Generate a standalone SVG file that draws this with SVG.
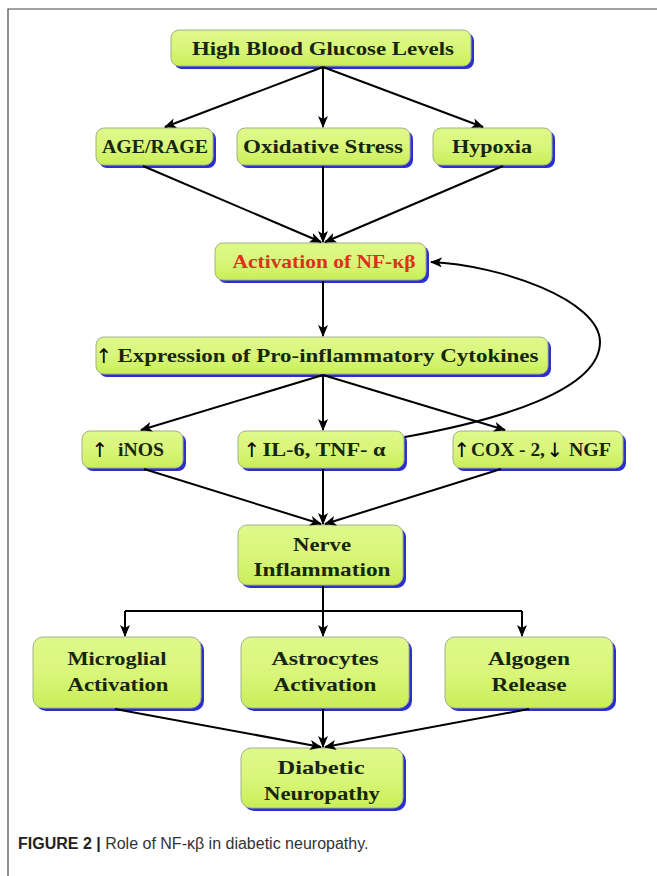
<svg xmlns="http://www.w3.org/2000/svg" width="657" height="876" viewBox="0 0 657 876">
<defs>
<linearGradient id="g" x1="0" y1="0" x2="0" y2="1">
<stop offset="0" stop-color="#def98a"/>
<stop offset="0.5" stop-color="#d9f67a"/>
<stop offset="1" stop-color="#c9ee58"/>
</linearGradient>
<marker id="ah" viewBox="0 0 12 10" refX="11" refY="5" markerWidth="12" markerHeight="10" markerUnits="userSpaceOnUse" orient="auto">
<path d="M0,0 L12,5 L0,10 L3,5 Z" fill="#000"/>
</marker>
</defs>
<style>
.sh{fill:#2b2fd0}
.bx{fill:url(#g);stroke:#a4b08e;stroke-width:1}
.t{font-family:"Liberation Serif","DejaVu Serif",serif;font-weight:bold;font-size:19px;fill:#17260f;text-anchor:middle}
.ar{font-family:"DejaVu Sans",sans-serif;font-size:20px;fill:#000;text-anchor:middle}
.c{fill:none;stroke:#000;stroke-width:2;marker-end:url(#ah)}
.cap{font-family:"Liberation Sans",Arial,sans-serif;font-size:16px;fill:#333}
</style>
<rect width="657" height="876" fill="#fff"/>
<path d="M8,876 V9 H657" fill="none" stroke="#444" stroke-width="1.2"/>

<g id="n1"><rect class="sh" x="174" y="33" width="300" height="36" rx="8"/><rect class="bx" x="171" y="30" width="300" height="36" rx="8"/><text class="t" x="323" y="55" textLength="262" lengthAdjust="spacingAndGlyphs">High Blood Glucose Levels</text></g>

<g id="n2"><rect class="sh" x="99" y="131" width="117" height="37" rx="8"/><rect class="bx" x="96" y="128" width="117" height="37" rx="8"/><text class="t" x="155" y="153" textLength="106" lengthAdjust="spacingAndGlyphs">AGE/RAGE</text></g>

<g id="n3"><rect class="sh" x="240" y="131" width="173" height="37" rx="8"/><rect class="bx" x="237" y="128" width="173" height="37" rx="8"/><text class="t" x="323" y="153" textLength="160" lengthAdjust="spacingAndGlyphs">Oxidative Stress</text></g>

<g id="n4"><rect class="sh" x="436" y="131" width="119" height="37" rx="8"/><rect class="bx" x="433" y="128" width="119" height="37" rx="8"/><text class="t" x="492" y="153" textLength="80" lengthAdjust="spacingAndGlyphs">Hypoxia</text></g>

<g id="n5"><rect class="sh" x="218" y="246" width="211" height="37" rx="8"/><rect class="bx" x="215" y="243" width="211" height="37" rx="8"/><text class="t" x="324" y="268" textLength="183" lengthAdjust="spacingAndGlyphs" style="fill:#e0301c">Activation of NF-κβ</text></g>

<g id="n6"><rect class="sh" x="99" y="340" width="452" height="37" rx="8"/><rect class="bx" x="96" y="337" width="452" height="37" rx="8"/><text class="ar" x="104" y="363">↑</text><text class="t" x="328" y="362" textLength="421" lengthAdjust="spacingAndGlyphs">Expression of Pro-inflammatory Cytokines</text></g>

<g id="n7"><rect class="sh" x="85" y="434" width="101" height="37" rx="8"/><rect class="bx" x="82" y="431" width="101" height="37" rx="8"/><text class="ar" x="100" y="457">↑</text><text class="t" x="141" y="456" textLength="46" lengthAdjust="spacingAndGlyphs">iNOS</text></g>

<g id="n8"><rect class="sh" x="241" y="434" width="166" height="37" rx="8"/><rect class="bx" x="238" y="431" width="166" height="37" rx="8"/><text class="ar" x="252" y="457">↑</text><text class="t" x="324" y="456" textLength="123" lengthAdjust="spacingAndGlyphs">IL-6, TNF- α</text></g>

<g id="n9"><rect class="sh" x="456" y="434" width="170" height="37" rx="8"/><rect class="bx" x="453" y="431" width="170" height="37" rx="8"/><text class="ar" x="462" y="457">↑</text><text class="t" x="508" y="456" textLength="74" lengthAdjust="spacingAndGlyphs">COX - 2,</text><text class="ar" x="555" y="457">↓</text><text class="t" x="590" y="456" textLength="42" lengthAdjust="spacingAndGlyphs">NGF</text></g>

<g id="n10"><rect class="sh" x="241" y="528" width="165" height="60" rx="9"/><rect class="bx" x="238" y="525" width="165" height="60" rx="9"/><text class="t" x="322" y="551" textLength="58" lengthAdjust="spacingAndGlyphs">Nerve</text><text class="t" x="322" y="576" textLength="137" lengthAdjust="spacingAndGlyphs">Inflammation</text></g>

<g id="n11"><rect class="sh" x="36" y="640" width="168" height="71" rx="10"/><rect class="bx" x="33" y="637" width="168" height="71" rx="10"/><text class="t" x="117" y="665" textLength="99" lengthAdjust="spacingAndGlyphs">Microglial</text><text class="t" x="118" y="691" textLength="101" lengthAdjust="spacingAndGlyphs">Activation</text></g>

<g id="n12"><rect class="sh" x="244" y="640" width="168" height="71" rx="10"/><rect class="bx" x="241" y="637" width="168" height="71" rx="10"/><text class="t" x="325" y="665" textLength="107" lengthAdjust="spacingAndGlyphs">Astrocytes</text><text class="t" x="325" y="691" textLength="103" lengthAdjust="spacingAndGlyphs">Activation</text></g>

<g id="n13"><rect class="sh" x="448" y="640" width="168" height="71" rx="10"/><rect class="bx" x="445" y="637" width="168" height="71" rx="10"/><text class="t" x="529" y="665" textLength="82" lengthAdjust="spacingAndGlyphs">Algogen</text><text class="t" x="529" y="691" textLength="75" lengthAdjust="spacingAndGlyphs">Release</text></g>

<g id="n14"><rect class="sh" x="244" y="751" width="162" height="60" rx="10"/><rect class="bx" x="241" y="748" width="162" height="60" rx="10"/><text class="t" x="321" y="774" textLength="87" lengthAdjust="spacingAndGlyphs">Diabetic</text><text class="t" x="322" y="800" textLength="116" lengthAdjust="spacingAndGlyphs">Neuropathy</text></g>

<g id="connectors">
<line class="c" x1="323" y1="67" x2="165" y2="127"/>
<line class="c" x1="323" y1="67" x2="323" y2="127"/>
<line class="c" x1="323" y1="67" x2="483" y2="127"/>
<line class="c" x1="143" y1="166" x2="321" y2="242"/>
<line class="c" x1="323" y1="166" x2="323" y2="242"/>
<line class="c" x1="503" y1="166" x2="325" y2="242"/>
<line class="c" x1="323" y1="281" x2="323" y2="336"/>
<line class="c" x1="323" y1="375" x2="141" y2="430"/>
<line class="c" x1="323" y1="375" x2="323" y2="430"/>
<line class="c" x1="323" y1="375" x2="505" y2="430"/>
<line class="c" x1="144" y1="469" x2="321" y2="524"/>
<line class="c" x1="323" y1="469" x2="323" y2="524"/>
<line class="c" x1="501" y1="469" x2="325" y2="524"/>
<path class="c" d="M405,437 C500,420 600,390 600,342 C600,300 500,265 431,262"/>
<path d="M323,586 V611 M125,611 H522" fill="none" stroke="#000" stroke-width="2"/>
<line class="c" x1="125" y1="611" x2="125" y2="636"/>
<line class="c" x1="323" y1="611" x2="323" y2="636"/>
<line class="c" x1="522" y1="611" x2="522" y2="636"/>
<line class="c" x1="115" y1="709" x2="321" y2="747"/>
<line class="c" x1="323" y1="709" x2="323" y2="747"/>
<line class="c" x1="529" y1="709" x2="325" y2="747"/>
</g>

<text class="cap" x="18" y="849"><tspan font-weight="bold" fill="#222">FIGURE 2 |</tspan> Role of NF-κβ in diabetic neuropathy.</text>
</svg>
